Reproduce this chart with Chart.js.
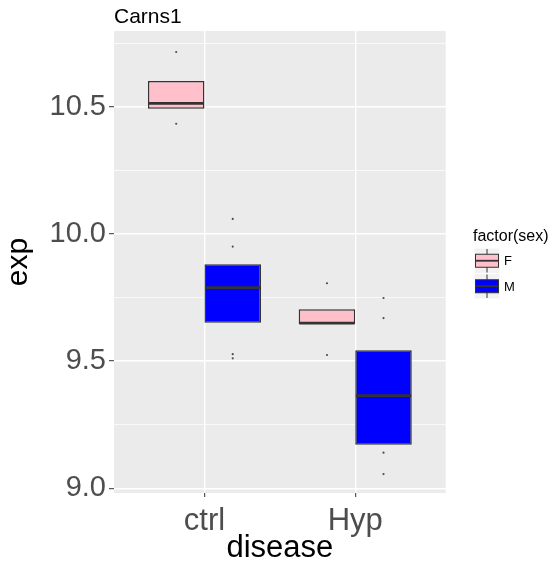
<!DOCTYPE html>
<html>
<head>
<meta charset="utf-8">
<script src="https://cdn.jsdelivr.net/npm/chart.js@4.4.1/dist/chart.umd.min.js"></script>
<style>
  html, body { margin: 0; padding: 0; background: #fff; }
  #wrap { width: 553px; height: 569px; }
</style>
</head>
<body>
<div id="wrap"><canvas id="boxChart" width="553" height="569"></canvas></div>
<script>
// Carns1 expression by disease, split by sex
const diseases = ['ctrl', 'Hyp'];
const sexes = ['F', 'M'];
const sexColors = ['#FFC0CB', '#0000FF'];

// box hinges and medians, one value per disease
const lowerF = [10.492, 9.646];
const medianF = [10.513, 9.649];
const upperF = [10.601, 9.704];
const lowerM = [9.651, 9.171];
const medianM = [9.789, 9.364];
const upperM = [9.881, 9.543];

// individual samples drawn as dots
const pointsCtrlF = [10.715, 10.433];
const pointsCtrlM = [10.059, 9.950, 9.527, 9.511];
const pointsHypF = [9.806, 9.524];
const pointsHypM = [9.748, 9.669, 9.140, 9.056];

const yMajorTicks = [9.0, 9.5, 10.0, 10.5];
const yMinorTicks = [9.25, 9.75, 10.25, 10.75];
const yRange = [8.9815, 10.7975];
const xRange = [0.4, 2.6];

const FONT = 'Liberation Sans, Arial, Helvetica, sans-serif';
const DODGE = 0.75;

const lowers = [lowerF, lowerM];
const medians = [medianF, medianM];
const uppers = [upperF, upperM];
const samples = [[pointsCtrlF, pointsHypF], [pointsCtrlM, pointsHypM]];

function dodgeX(diseaseIdx, sexIdx) {
    return diseaseIdx + 1 + (sexIdx - 0.5) * DODGE / 2;
}

const pointSets = sexes.map((s, si) => ({
    type: 'scatter',
    label: s + ' samples',
    data: diseases.flatMap((d, di) => samples[si][di].map(v => ({ x: dodgeX(di, si), y: v }))),
    pointRadius: 1.1,
    pointBorderWidth: 0,
    pointBackgroundColor: '#4D4D4D',
    pointHoverRadius: 1.1
}));

const boxSets = sexes.map((s, si) => ({
    type: 'bar',
    label: s,
    data: diseases.map((d, di) => ({ x: di + 1, y: [lowers[si][di], uppers[si][di]] })),
    backgroundColor: sexColors[si],
    borderColor: '#333333',
    borderWidth: 1.5,
    borderSkipped: false,
    categoryPercentage: DODGE,
    barPercentage: 1
}));

// grey panel behind the grid
const panelBg = {
    id: 'panelBg',
    beforeDraw(chart) {
        const { ctx, chartArea: a } = chart;
        ctx.save();
        ctx.fillStyle = '#EBEBEB';
        ctx.fillRect(a.left, a.top, a.right - a.left, a.bottom - a.top);
        ctx.restore();
    }
};

// median line across each box
const medianLines = {
    id: 'medianLines',
    afterDatasetDraw(chart, args) {
        const ds = chart.data.datasets[args.index];
        if (ds.type !== 'bar') return;
        const si = sexes.indexOf(ds.label);
        const y = chart.scales.y;
        const { ctx } = chart;
        ctx.save();
        ctx.strokeStyle = '#333333';
        ctx.lineWidth = 2.8;
        args.meta.data.forEach((bar, di) => {
            const { x, width } = bar.getProps(['x', 'width'], true);
            const py = y.getPixelForValue(medians[si][di]);
            ctx.beginPath();
            ctx.moveTo(x - width / 2 + 0.7, py);
            ctx.lineTo(x + width / 2 - 0.7, py);
            ctx.stroke();
        });
        ctx.restore();
    }
};

// plot title and boxplot-style legend
const decorations = {
    id: 'decorations',
    afterDraw(chart) {
        const { ctx, chartArea: a } = chart;
        ctx.save();
        ctx.fillStyle = '#000000';
        ctx.textBaseline = 'alphabetic';
        ctx.textAlign = 'left';
        ctx.font = '21px ' + FONT;
        ctx.fillText('Carns1', a.left, 23);

        const lx = 474, ly = 248, kw = 26, kh = 25.5;
        ctx.font = '16px ' + FONT;
        ctx.fillText('factor(sex)', lx - 1, 241);
        sexes.forEach((s, i) => {
            const top = ly + i * kh;
            ctx.fillStyle = '#F2F2F2';
            ctx.fillRect(lx, top, kw, kh);
            ctx.strokeStyle = '#FFFFFF';
            ctx.lineWidth = 1;
            ctx.strokeRect(lx, top, kw, kh);
            const cx = lx + kw / 2, cy = top + kh / 2;
            ctx.strokeStyle = '#333333';
            ctx.lineWidth = 1;
            ctx.beginPath();
            ctx.moveTo(cx, top + 1);
            ctx.lineTo(cx, top + kh - 1);
            ctx.stroke();
            ctx.fillStyle = sexColors[i];
            ctx.fillRect(lx + 1.5, cy - 6.5, kw - 3, 13);
            ctx.strokeRect(lx + 1.5, cy - 6.5, kw - 3, 13);
            ctx.lineWidth = 1.8;
            ctx.beginPath();
            ctx.moveTo(lx + 1.5, cy);
            ctx.lineTo(lx + kw - 1.5, cy);
            ctx.stroke();
            ctx.fillStyle = '#000000';
            ctx.font = '13px ' + FONT;
            ctx.textBaseline = 'middle';
            ctx.fillText(s, lx + kw + 4, cy + 1);
            ctx.textBaseline = 'alphabetic';
        });
        ctx.restore();
    }
};

new Chart(document.getElementById('boxChart'), {
    type: 'bar',
    data: { datasets: [...pointSets, ...boxSets] },
    plugins: [panelBg, medianLines, decorations],
    options: {
        responsive: false,
        animation: false,
        events: [],
        layout: { padding: { left: 0, top: 31, right: 107.3, bottom: 0 } },
        plugins: {
            legend: { display: false },
            title: { display: false },
            tooltip: { enabled: false }
        },
        scales: {
            x: {
                type: 'linear',
                min: xRange[0],
                max: xRange[1],
                offset: false,
                afterBuildTicks: scale => {
                    scale.ticks = diseases.map((d, i) => ({ value: i + 1 }));
                },
                afterFit: scale => { scale.height = 76; },
                border: { display: false },
                grid: {
                    offset: false,
                    color: '#FFFFFF',
                    lineWidth: 1.4,
                    tickColor: '#333333',
                    tickLength: 4,
                    tickWidth: 1
                },
                ticks: {
                    autoSkip: false,
                    maxRotation: 0,
                    padding: 6,
                    color: '#4D4D4D',
                    font: { family: FONT, size: 31 },
                    callback: v => diseases[Math.round(v) - 1]
                },
                title: {
                    display: true,
                    text: 'disease',
                    color: '#000000',
                    font: { family: FONT, size: 31 },
                    padding: { top: 0, bottom: 2 }
                }
            },
            y: {
                type: 'linear',
                min: yRange[0],
                max: yRange[1],
                afterBuildTicks: scale => {
                    scale.ticks = [...yMajorTicks, ...yMinorTicks].sort((a, b) => a - b).map(v => ({ value: v }));
                },
                afterFit: scale => { scale.width = 114; },
                border: { display: false },
                grid: {
                    color: '#FFFFFF',
                    lineWidth: c => yMajorTicks.includes(c.tick.value) ? 1.4 : 0.7,
                    tickColor: c => yMajorTicks.includes(c.tick.value) ? '#333333' : 'rgba(0,0,0,0)',
                    tickLength: 5,
                    tickWidth: 1
                },
                ticks: {
                    autoSkip: false,
                    padding: 3,
                    color: '#4D4D4D',
                    font: { family: FONT, size: 29 },
                    callback: v => yMajorTicks.includes(v) ? v.toFixed(1) : ''
                },
                title: {
                    display: true,
                    text: 'exp',
                    color: '#000000',
                    font: { family: FONT, size: 30, lineHeight: 1.1 },
                    padding: { top: 2, bottom: 0 }
                }
            }
        }
    }
});
</script>
</body>
</html>
